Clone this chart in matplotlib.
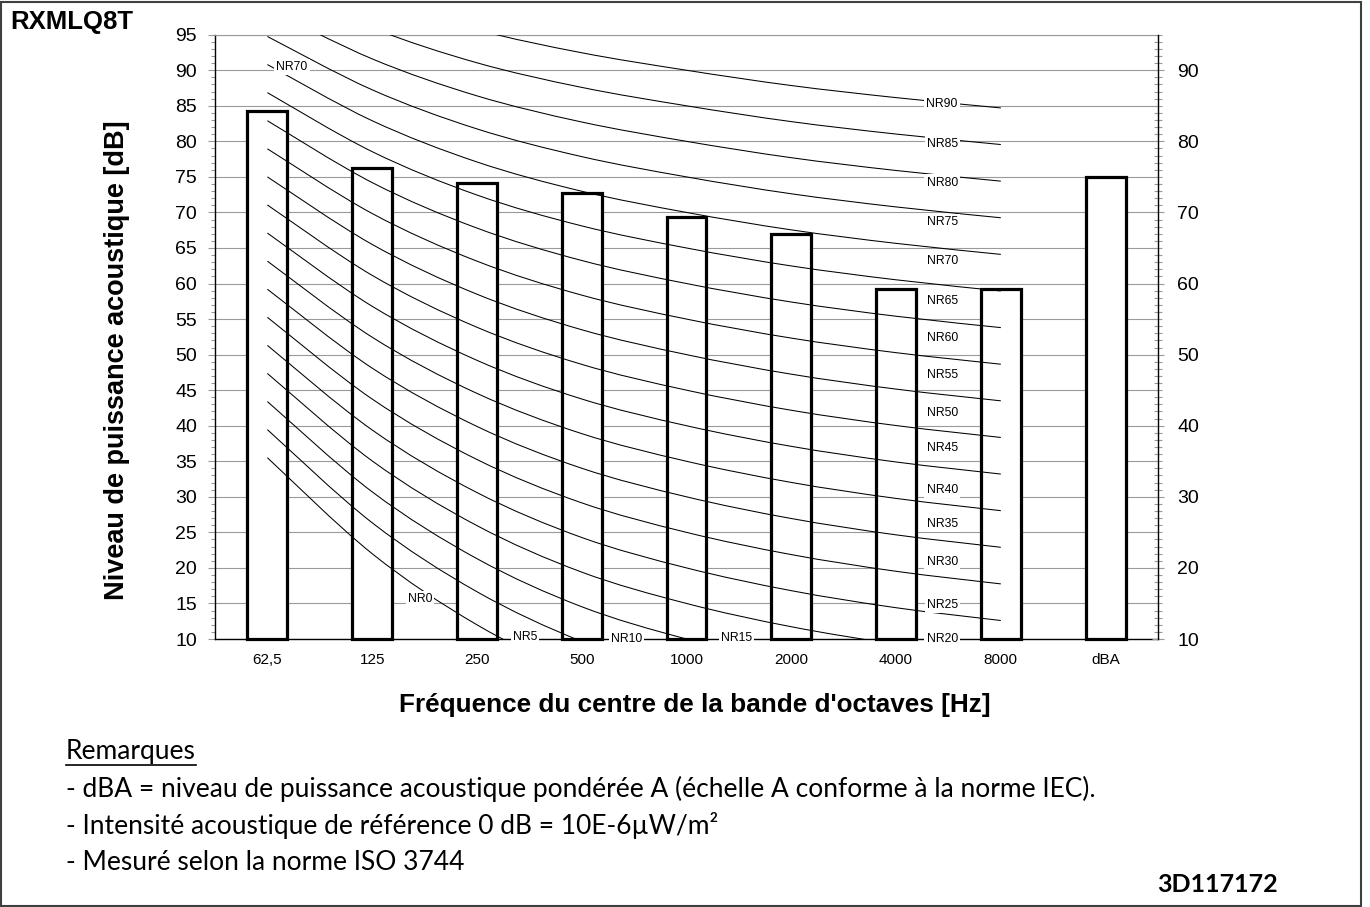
import numpy as np
import matplotlib
matplotlib.use('Agg')
import matplotlib.pyplot as plt
from matplotlib.path import Path
from matplotlib.patches import PathPatch, Rectangle
from matplotlib.ticker import MultipleLocator
from matplotlib.lines import Line2D

plt.rcParams['font.family'] = ['Liberation Sans', 'DejaVu Sans']

# sound power per octave band, plus the A-weighted total
bands = ['62,5', '125', '250', '500', '1000', '2000', '4000', '8000', 'dBA']
power_db = [84.3, 76.2, 74.2, 72.7, 69.3, 67.0, 59.3, 59.3, 75.0]

# NR rating curves: level in each octave band (63 Hz ... 8 kHz) for every NR number
nr_numbers = [0, 5, 10, 15, 20, 25, 30, 35, 40, 45, 50, 55, 60, 65, 70, 75, 80, 85, 90]
nr_63 = [35.5, 39.45, 43.4, 47.35, 51.3, 55.25, 59.2, 63.15, 67.1, 71.05, 75.0,
         78.95, 82.9, 86.85, 90.8, 94.75, 98.7, 102.65, 106.6]
nr_125 = [22.0, 26.35, 30.7, 35.05, 39.4, 43.75, 48.1, 52.45, 56.8, 61.15, 65.5,
          69.85, 74.2, 78.55, 82.9, 87.25, 91.6, 95.95, 100.3]
nr_250 = [12.0, 16.65, 21.3, 25.95, 30.6, 35.25, 39.9, 44.55, 49.2, 53.85, 58.5,
          63.15, 67.8, 72.45, 77.1, 81.75, 86.4, 91.05, 95.7]
nr_500 = [4.8, 9.67, 14.54, 19.41, 24.28, 29.15, 34.02, 38.89, 43.76, 48.63, 53.5,
          58.37, 63.24, 68.11, 72.98, 77.85, 82.72, 87.59, 92.46]
nr_1000 = [0.0, 5.0, 10.0, 15.0, 20.0, 25.0, 30.0, 35.0, 40.0, 45.0, 50.0,
           55.0, 60.0, 65.0, 70.0, 75.0, 80.0, 85.0, 90.0]
nr_2000 = [-3.5, 1.575, 6.65, 11.725, 16.8, 21.875, 26.95, 32.025, 37.1, 42.175, 47.25,
           52.325, 57.4, 62.475, 67.55, 72.625, 77.7, 82.775, 87.85]
nr_4000 = [-6.1, -0.975, 4.15, 9.275, 14.4, 19.525, 24.65, 29.775, 34.9, 40.025, 45.15,
           50.275, 55.4, 60.525, 65.65, 70.775, 75.9, 81.025, 86.15]
nr_8000 = [-8.0, -2.85, 2.3, 7.45, 12.6, 17.75, 22.9, 28.05, 33.2, 38.35, 43.5,
           48.65, 53.8, 58.95, 64.1, 69.25, 74.4, 79.55, 84.7]

# where each curve name is written (x in band slots, y in dB)
nr_labels = [
    ('NR0', 1.455, 15.6), ('NR5', 2.46, 10.3), ('NR10', 3.43, 10.0), ('NR15', 4.48, 10.1),
    ('NR20', 6.44, 10.0), ('NR25', 6.44, 14.8), ('NR30', 6.44, 20.8), ('NR35', 6.44, 26.2),
    ('NR40', 6.44, 30.9), ('NR45', 6.44, 36.8), ('NR50', 6.44, 41.8), ('NR55', 6.44, 47.1),
    ('NR60', 6.44, 52.4), ('NR65', 6.44, 57.5), ('NR70', 6.44, 63.2), ('NR75', 6.44, 68.7),
    ('NR80', 6.44, 74.2), ('NR85', 6.44, 79.6), ('NR90', 6.44, 85.2), ('NR70', 0.234, 90.5),
]

remarks = [
    '- dBA = niveau de puissance acoustique pondérée A (échelle A conforme à la norme IEC).',
    '- Intensité acoustique de référence 0 dB = 10E-6µW/m²',
    '- Mesuré selon la norme ISO 3744',
]


def smooth_path(xs, ys):
    # Catmull-Rom spline through the points, written as cubic Bezier segments
    pts = np.column_stack([xs, ys])
    ext = np.vstack([pts[0], pts, pts[-1]])
    verts = [pts[0]]
    codes = [Path.MOVETO]
    for i in range(len(pts) - 1):
        p0, p1, p2, p3 = ext[i], ext[i + 1], ext[i + 2], ext[i + 3]
        verts += [p1 + (p2 - p0) / 6, p2 - (p3 - p1) / 6, p2]
        codes += [Path.CURVE4] * 3
    return Path(verts, codes)


W, H = 1370, 907
fig = plt.figure(figsize=(W / 100, H / 100), dpi=100)
ax = fig.add_axes([215 / W, 1 - 639 / H, (1158 - 215) / W, (639 - 34.7) / H])

ax.set_xlim(-0.5, 8.5)
ax.set_ylim(10, 95)

grid_grey = '#9a9a9a'
ax.set_yticks(range(10, 96, 5))
ax.yaxis.set_minor_locator(MultipleLocator(1))
ax.yaxis.grid(True, color=grid_grey, lw=0.8)
ax.set_axisbelow(True)
ax.tick_params(axis='y', which='major', direction='out', length=5, width=0.8,
               color=grid_grey, labelsize=14, pad=8)
ax.tick_params(axis='y', which='minor', direction='out', length=3, width=0.8, color=grid_grey)
ax.set_xticks(range(len(bands)))
ax.set_xticklabels(bands)
ax.tick_params(axis='x', length=0, labelsize=11, pad=10)

ax.spines['top'].set_color(grid_grey)
ax.spines['top'].set_linewidth(0.8)
ax.spines['right'].set_visible(False)
for s in ('left', 'bottom'):
    ax.spines[s].set_color('black')
    ax.spines[s].set_linewidth(1.0)

# right hand scale
ax2 = ax.twinx()
ax2.set_ylim(10, 95)
ax2.set_yticks(range(10, 91, 10))
ax2.yaxis.set_minor_locator(MultipleLocator(1))
ax2.tick_params(axis='y', which='major', direction='inout', length=8, width=0.8,
                color=grid_grey, labelsize=14, pad=10)
ax2.tick_params(axis='y', which='minor', direction='inout', length=6, width=0.8, color=grid_grey)
for s in ('top', 'bottom', 'left'):
    ax2.spines[s].set_visible(False)
ax2.spines['right'].set_color('black')
ax2.spines['right'].set_linewidth(1.0)

# measured levels
x = np.arange(len(bands))
vals = np.array(power_db)
ax.bar(x, vals - 10, bottom=10, width=0.38, color='white', edgecolor='black',
       linewidth=2.3, zorder=2, clip_on=False)

# NR curves
levels = np.column_stack([nr_63, nr_125, nr_250, nr_500, nr_1000, nr_2000, nr_4000, nr_8000])
band_x = np.arange(levels.shape[1])
for row in levels:
    ax.add_patch(PathPatch(smooth_path(band_x, row), fill=False, ec='black', lw=0.75, zorder=3))

for name, lx, ly in nr_labels:
    ax.text(lx, ly, name, fontsize=8.8, ha='center', va='center', zorder=6, clip_on=False,
            bbox=dict(facecolor='white', edgecolor='none', pad=1.5))

# titles
fig.text(10 / W, 1 - 22 / H, 'RXMLQ8T', fontsize=18.5, weight='bold', va='center')
fig.text(117 / W, 1 - 360 / H, 'Niveau de puissance acoustique [dB]', fontsize=19.5,
         weight='bold', rotation=90, ha='center', va='center')
fig.text(695 / W, 1 - 705 / H, "Fréquence du centre de la bande d'octaves [Hz]",
         fontsize=18.8, weight='bold', ha='center', va='center')

# notes below the chart
note_font = ['Lato', 'DejaVu Sans']
head = fig.text(66 / W, 1 - 752 / H, 'Remarques', fontsize=19, family=note_font, va='center')
for i, line in enumerate(remarks):
    fig.text(66 / W, 1 - (789 + 36.5 * i) / H, line, fontsize=19, family=note_font, va='center')
fig.text(1217 / W, 1 - 884 / H, '3D117172', fontsize=18, family=note_font,
         weight='bold', ha='center', va='center')

fig.canvas.draw()
hb = head.get_window_extent()
fig.add_artist(Line2D([hb.x0, hb.x1], [H - 765, H - 765], transform=None,
                      color='black', lw=1.2))

# frame round the sheet
fig.add_artist(Rectangle((1 / W, 1 / H), 1360 / W, 904 / H, transform=fig.transFigure,
                         fill=False, ec='#404040', lw=1.5))

fig.savefig('out.png', dpi=100)
